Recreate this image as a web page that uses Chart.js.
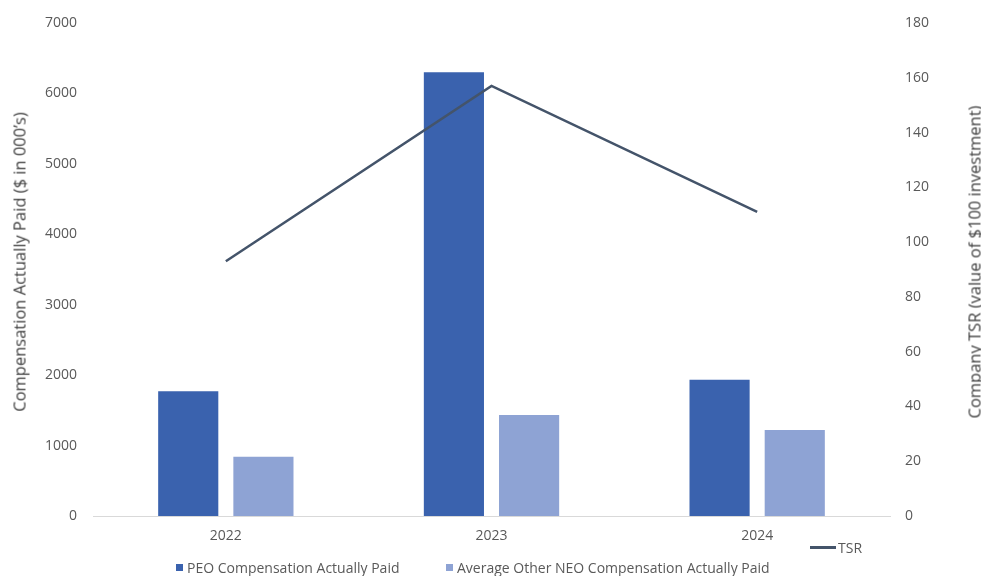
<!DOCTYPE html>
<html>
<head>
<meta charset="utf-8">
<script src="https://cdn.jsdelivr.net/npm/chart.js@4"></script>
<style>
  html, body { margin: 0; padding: 0; background: #fff; }
  #wrap { position: relative; width: 981px; height: 576px; overflow: hidden; font-family: "Open Sans", sans-serif; }
  canvas { position: absolute; left: 0; top: 0; }
  .ytitle { position: absolute; white-space: nowrap; font-size: 16.5px; color: #404040; transform-origin: center center; transform: translate(-50%, -50%) rotate(-90deg); }
  .leg { position: absolute; font-size: 14px; color: #595959; white-space: nowrap; display: flex; align-items: center; }
  .sw { display: inline-block; width: 7px; height: 7px; margin-right: 4px; }
  .ln { display: inline-block; width: 26px; height: 2.5px; background: #44546A; margin-right: 2px; }
</style>
</head>
<body>
<div id="wrap">
  <canvas id="c" width="981" height="576"></canvas>
  <div class="ytitle" style="left:19px; top:262px;">Compensation Actually Paid ($ in 000’s)</div>
  <div class="ytitle" style="left:974px; top:262px;">Company TSR (value of $100 investment)</div>
  <div class="leg" style="left:810px; top:538px;"><span class="ln"></span>TSR</div>
  <div class="leg" style="left:176px; top:558px;"><span class="sw" style="background:#3A62AE"></span>PEO Compensation Actually Paid</div>
  <div class="leg" style="left:446px; top:558px;"><span class="sw" style="background:#8EA3D4"></span>Average Other NEO Compensation Actually Paid</div>
</div>
<script>
const categories = ["2022", "2023", "2024"];
const peoCAP = [1770, 6300, 1935];
const neoCAP = [840, 1435, 1220];
const tsr = [93, 157, 111];
const leftTicks = [0, 1000, 2000, 3000, 4000, 5000, 6000, 7000];
const rightTicks = [0, 20, 40, 60, 80, 100, 120, 140, 160, 180];

const tickFont = { family: "Open Sans", size: 14 };
new Chart(document.getElementById('c'), {
  type: 'bar',
  data: {
    labels: categories,
    datasets: [
      { type: 'line', label: 'TSR', data: tsr, yAxisID: 'y1', borderColor: '#44546A', backgroundColor: '#44546A', borderWidth: 2.5, pointRadius: 0, tension: 0, order: 0 },
      { label: 'PEO Compensation Actually Paid', data: peoCAP, yAxisID: 'y', backgroundColor: '#3A62AE', order: 1 },
      { label: 'Average Other NEO Compensation Actually Paid', data: neoCAP, yAxisID: 'y', backgroundColor: '#8EA3D4', order: 1 }
    ]
  },
  options: {
    responsive: false,
    animation: false,
    layout: { padding: { top: 23, bottom: 0, left: 0, right: 0 } },
    datasets: { bar: { categoryPercentage: 0.566, barPercentage: 0.8 } },
    plugins: { legend: { display: false }, tooltip: { enabled: false } },
    scales: {
      x: {
        grid: { display: false },
        border: { display: true, color: '#D9D9D9', width: 1 },
        ticks: { color: '#595959', font: tickFont, padding: 4 },
        afterFit: s => { s.height = 60; }
      },
      y: {
        position: 'left', min: 0, max: 7000,
        afterBuildTicks: s => { s.ticks = leftTicks.map(v => ({ value: v })); },
        grid: { display: false }, border: { display: false },
        ticks: { color: '#595959', font: tickFont, padding: 8, callback: v => String(v) },
        afterFit: s => { s.width = 93; }
      },
      y1: {
        position: 'right', min: 0, max: 180,
        afterBuildTicks: s => { s.ticks = rightTicks.map(v => ({ value: v })); },
        grid: { display: false }, border: { display: false },
        ticks: { color: '#595959', font: tickFont, padding: 7, callback: v => String(v) },
        afterFit: s => { s.width = 91; }
      }
    }
  }
});
</script>
</body>
</html>
